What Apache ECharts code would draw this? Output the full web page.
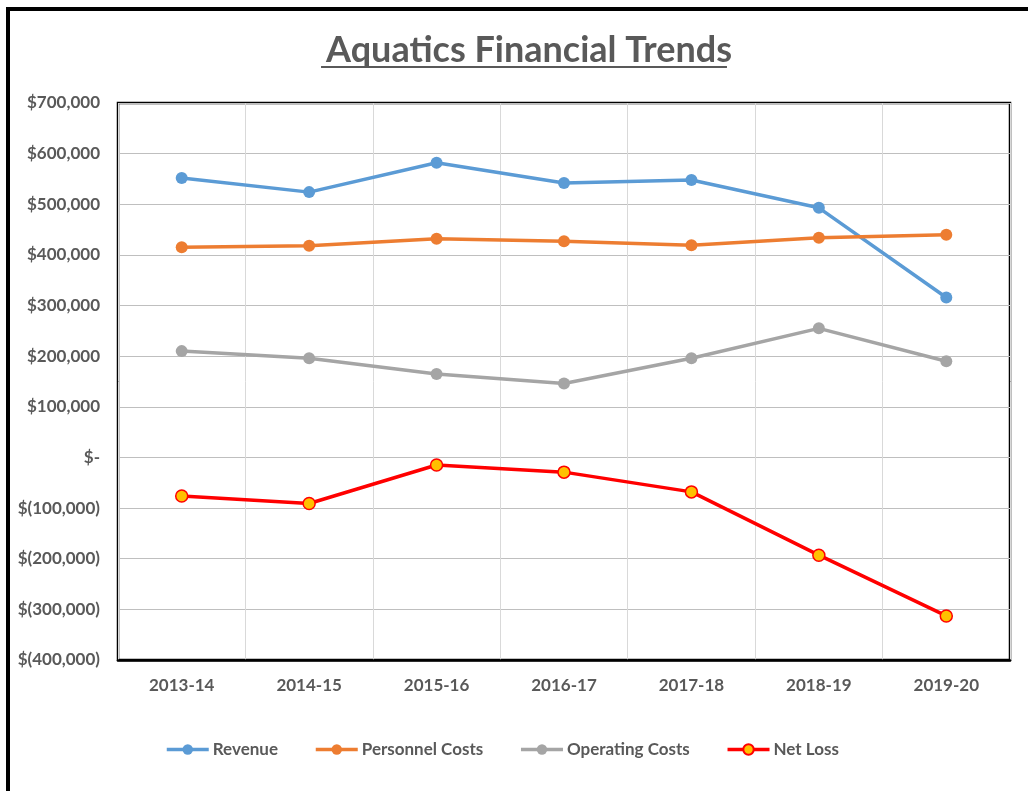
<!DOCTYPE html>
<html>
<head>
<meta charset="utf-8">
<script src="https://cdn.jsdelivr.net/npm/echarts@6/dist/echarts.min.js"></script>
<style>
html,body{margin:0;padding:0;background:#fff;}
#chart{width:1028px;height:791px;}
</style>
</head>
<body>
<div id="chart"></div>
<script>
const categories = ['2013-14','2014-15','2015-16','2016-17','2017-18','2018-19','2019-20'];
const revenue = [552000, 524000, 582000, 542000, 548000, 493000, 316000];
const personnelCosts = [415000, 418000, 432000, 427000, 419000, 434000, 440000];
const operatingCosts = [210000, 196000, 165000, 146000, 196000, 255000, 190000];
const netLoss = [-76000, -91000, -15000, -29000, -68000, -193000, -313000];
const yTicks = {min: -400000, max: 700000, interval: 100000};
const titleText = 'Aquatics Financial Trends';

const FONT = 'Lato, "Open Sans", sans-serif';
const TXT = '#595959';

function fmt(v){
  if (v === 0) return '$-';
  const s = Math.abs(v).toLocaleString('en-US');
  return v < 0 ? '$(' + s + ')' : '$' + s;
}

const TITLE_SIZE = 36;
const cv = document.createElement('canvas').getContext('2d');
cv.font = 'bold ' + TITLE_SIZE + 'px ' + FONT;
const tw = cv.measureText(titleText).width;
const tcx = 524;

const chart = echarts.init(document.getElementById('chart'));
const lineW = 3.5;
function mk(name, data, color, extra){
  return Object.assign({
    name, type:'line', data,
    symbol:'circle', symbolSize:12,
    lineStyle:{color, width:lineW},
    itemStyle:{color},
    emphasis:{disabled:true},
    animation:false
  }, extra||{});
}
chart.setOption({
  backgroundColor:'#fff',
  animation:false,
  title:{
    text:titleText, left:tcx, textAlign:'center', top:27,
    textStyle:{fontFamily:FONT, fontSize:TITLE_SIZE, fontWeight:'bold', color:TXT}
  },
  graphic:[
    {type:'line', shape:{x1:tcx - tw/2, y1:67, x2:tcx + tw/2, y2:67}, style:{stroke:TXT, lineWidth:2}, silent:true},
    {type:'rect', shape:{x:8, y:9, width:1040, height:820}, style:{fill:null, stroke:'#000', lineWidth:4}, silent:true}
  ],
  legend:{
    top:736, left:160,
    itemWidth:42, itemHeight:13, itemGap:36,
    lineStyle:{width:3.5},
    textStyle:{fontFamily:FONT, fontSize:17, fontWeight:'bold', color:TXT, padding:[0,0,0,-1]},
    data:['Revenue','Personnel Costs','Operating Costs','Net Loss']
  },
  grid:{left:118, right:18, top:103, bottom:131, show:true, borderColor:'#000', borderWidth:2.5, containLabel:false},
  xAxis:{
    type:'category', data:categories, boundaryGap:true,
    axisLine:{show:true, onZero:false, lineStyle:{color:'#000', width:2.5}},
    axisTick:{show:false},
    splitLine:{show:true, interval:0, lineStyle:{color:'#d9d9d9', width:1}},
    axisLabel:{fontFamily:FONT, fontSize:17, fontWeight:'bold', color:TXT, margin:17, interval:0}
  },
  yAxis:{
    type:'value', min:yTicks.min, max:yTicks.max, interval:yTicks.interval,
    axisLine:{show:false}, axisTick:{show:false},
    splitLine:{show:true, lineStyle:{color:'#bfbfbf', width:1}},
    axisLabel:{fontFamily:FONT, fontSize:17, fontWeight:'bold', color:TXT, margin:18, formatter:fmt}
  },
  series:[
    mk('Revenue', revenue, '#5b9bd5'),
    mk('Personnel Costs', personnelCosts, '#ed7d31'),
    mk('Operating Costs', operatingCosts, '#a5a5a5'),
    mk('Net Loss', netLoss, '#ff0000', {itemStyle:{color:'#ffc000', borderColor:'#ff0000', borderWidth:1.5}, symbolSize:12})
  ]
});
</script>
</body>
</html>
